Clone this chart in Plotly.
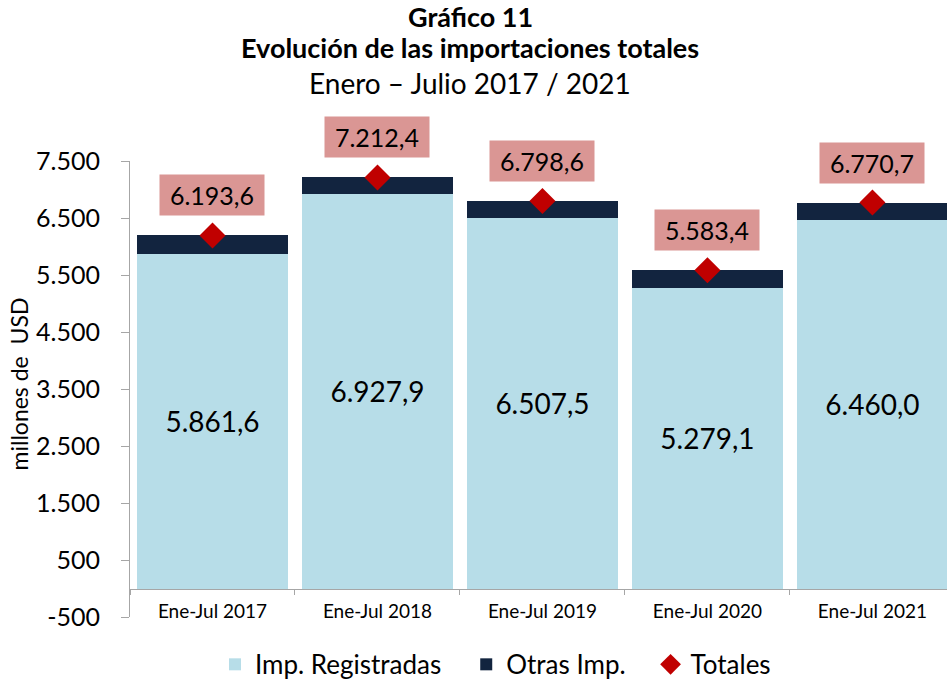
import plotly.graph_objects as go

categorias = ["Ene-Jul 2017", "Ene-Jul 2018", "Ene-Jul 2019", "Ene-Jul 2020", "Ene-Jul 2021"]
registradas = [5861.6, 6927.9, 6507.5, 5279.1, 6460.0]
otras = [332.0, 284.5, 291.1, 304.3, 310.7]
totales = [6193.6, 7212.4, 6798.6, 5583.4, 6770.7]
ticks_y = [-500, 500, 1500, 2500, 3500, 4500, 5500, 6500, 7500]

fuente = "Lato"
sep = "\u00a0" * 3  # espacio extra entre entradas de la leyenda


def fmt(v, dec=1):
    s = f"{v:,.{dec}f}"
    return s.replace(",", "X").replace(".", ",").replace("X", ".")


fig = go.Figure()
fig.add_trace(go.Bar(
    x=categorias, y=registradas, name="Imp. Registradas" + sep,
    marker=dict(color="#b7dde8", line=dict(width=0)),
    texttemplate="%{y:,.1f}", textposition="inside", insidetextanchor="middle",
    textfont=dict(size=28, color="#000000", family=fuente),
))
fig.add_trace(go.Bar(
    x=categorias, y=otras, name="Otras Imp." + sep,
    marker=dict(color="#12243f", line=dict(width=0)),
    hoverinfo="skip",
))
fig.add_trace(go.Scatter(
    x=categorias, y=totales, name="Totales", mode="markers",
    marker=dict(symbol="diamond", size=20, color="#c00000"),
    cliponaxis=False,
))

# etiquetas de totales en cajas rosadas
for c, t in zip(categorias, totales):
    fig.add_annotation(
        x=c, y=t, text=fmt(t), showarrow=False, yshift=40,
        bgcolor="#da9694", borderpad=5, width=94, height=30,
        font=dict(size=25, color="#000000", family=fuente),
    )

# títulos
for txt, dy, bold in [("Gráfico 11", 145, True),
                      ("Evolución de las importaciones totales", 114, True),
                      ("Enero – Julio 2017 / 2021", 78, False)]:
    fig.add_annotation(
        xref="paper", yref="paper", x=(470 - 130) / 817, y=1, yshift=dy,
        xanchor="center", yanchor="middle",
        text=f"<b>{txt}</b>" if bold else txt, showarrow=False,
        font=dict(size=28 if not bold else 27, color="#000000", family=fuente),
    )

fig.add_annotation(
    xref="paper", yref="paper", x=0, y=0.51, xshift=-111, textangle=-90,
    xanchor="center", yanchor="middle",
    text="millones de  USD", showarrow=False,
    font=dict(size=23, color="#000000", family=fuente),
)

fig.update_layout(
    width=947, height=680,
    margin=dict(l=130, r=0, t=161, b=63, autoexpand=False),
    barmode="stack", bargap=0.09,
    separators=",.",
    plot_bgcolor="#ffffff", paper_bgcolor="#ffffff",
    font=dict(family=fuente, color="#000000"),
    showlegend=True,
    legend=dict(orientation="h", x=(495.5 - 130) / 817, xanchor="center", y=-0.104, yanchor="middle",
                traceorder="normal", font=dict(size=26, family=fuente)),
    xaxis=dict(
        type="category", range=[-0.5, 4.452],
        anchor="free", position=500 / 8000,
        showline=True, linecolor="#a6a6a6", linewidth=1,
        ticks="outside", tickson="boundaries", ticklen=5, tickcolor="#a6a6a6",
        showgrid=False, tickfont=dict(size=19, family=fuente),
        ticklabelstandoff=6,
    ),
    yaxis=dict(
        range=[-500, 7500], tickvals=ticks_y, ticktext=[fmt(v, 0) for v in ticks_y],
        showline=True, linecolor="#a6a6a6", linewidth=1,
        ticks="outside", ticklen=8, tickcolor="#a6a6a6",
        showgrid=False, zeroline=False,
        tickfont=dict(size=25, family=fuente), ticklabelstandoff=16,
    ),
)

fig.write_html("out.html", config={"displayModeBar": False},
               post_script="document.body.style.margin='0';document.body.style.overflow='hidden';")
